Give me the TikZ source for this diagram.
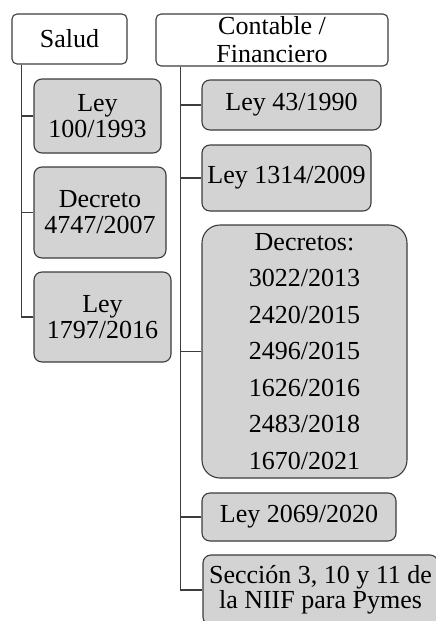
\documentclass[tikz,border=0pt]{standalone}
\usepackage{fontspec}
\setmainfont{Liberation Serif}
\definecolor{boxfill}{HTML}{D3D3D3}
\definecolor{edge}{HTML}{3C3C3C}
\tikzset{
  head/.style={draw=edge, line width=1.1pt, fill=white, rounded corners=5pt, align=center, inner sep=0pt,
    font=\fontsize{26}{28}\selectfont},
  leaf/.style={draw=edge, line width=1.1pt, fill=boxfill, rounded corners=8pt, align=center, inner sep=0pt,
    font=\fontsize{26}{26}\selectfont},
  conn/.style={draw=edge, line width=1.1pt},
}
\begin{document}
\begin{tikzpicture}[x=1pt,y=-1pt]
\useasboundingbox (0,0) rectangle (436,621);
\clip (0,0) rectangle (436,621);
\fill[white] (0,0) rectangle (436,621);
% headers
\node[head, minimum width=115pt, minimum height=50pt] (salud) at (69.5,39) {Salud};
\node[head, minimum width=232pt, minimum height=52pt] (cont) at (272,40) {Contable /\\Financiero};
% Salud leaves
\node[leaf, minimum width=127pt, minimum height=74pt] (l100) at (97.5,116) {Ley\\100/1993};
\node[leaf, minimum width=132pt, minimum height=91pt] (d4747) at (100,212.5) {Decreto\\4747/2007};
\node[leaf, minimum width=137pt, minimum height=90pt] (l1797) at (102.5,317) {Ley\\1797/2016};
% Contable leaves
\node[leaf, minimum width=179pt, minimum height=50pt] (l43) at (291.5,105) {Ley 43/1990};
\node[leaf, minimum width=169pt, minimum height=66pt] (l1314) at (286.5,178) {Ley 1314/2009};
\node[leaf, rounded corners=18pt, minimum width=205pt, minimum height=253pt, font=\fontsize{26}{36.5}\selectfont] (decs) at (304.5,351.5)
  {Decretos:\\3022/2013\\2420/2015\\2496/2015\\1626/2016\\2483/2018\\1670/2021};
\node[leaf, minimum width=194pt, minimum height=48pt] (l2069) at (299,517) {Ley 2069/2020};
\node[leaf, minimum width=235pt, minimum height=70pt, font=\fontsize{26}{25.5}\selectfont] (secc) at (320.5,590)
  {Secci\'on 3, 10 y 11 de\\la NIIF para Pymes};
% connectors
\coordinate (st) at ([xshift=10pt]salud.south west);
\coordinate (ct) at ([xshift=25pt]cont.south west);
\draw[conn] (st) |- (l1797.west);
\draw[conn] (l100.west) -- (l100.west -| st);
\draw[conn] (d4747.west) -- (d4747.west -| st);
\draw[conn] (ct) |- (secc.west);
\draw[conn] (l43.west) -- (l43.west -| ct);
\draw[conn] (l1314.west) -- (l1314.west -| ct);
\draw[conn] (decs.west) -- (decs.west -| ct);
\draw[conn] (l2069.west) -- (l2069.west -| ct);
\end{tikzpicture}
\end{document}
